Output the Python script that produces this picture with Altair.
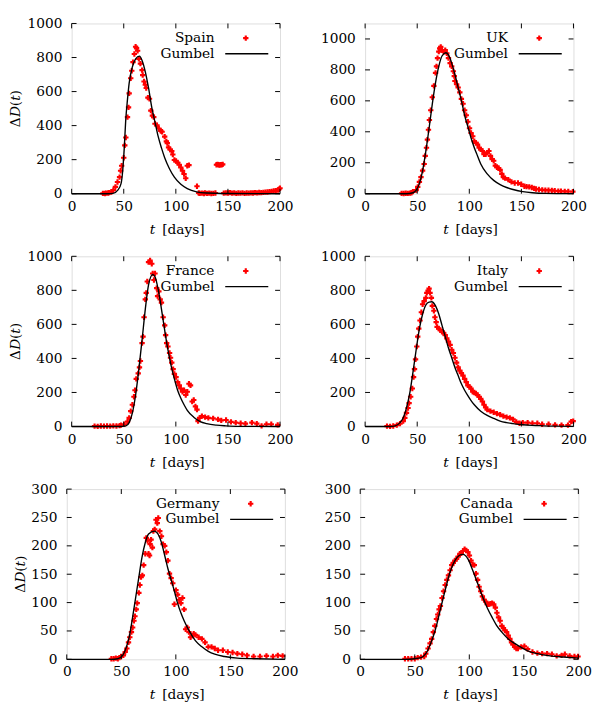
import altair as alt
import pandas as pd

FONT = "DejaVu Serif"
FS = 14

# ---------------- data ----------------
spain_t = [30, 32, 33, 35, 36, 38, 40, 42, 44, 46, 47, 48, 50, 51, 52, 53.6, 54.6, 55.2, 56.7, 57.7,
           58.9, 60.2, 61.4, 62.3, 63.3, 64.5, 66, 67.6, 68.2, 69.5, 70.7, 71.6, 73.2, 74.7, 76, 77.5,
           78.8, 80, 81.9, 83.7, 85.6, 86.8, 89.3, 90.9, 91.8, 93, 94.6, 96.1, 97.1, 98.6, 100.2, 101.7,
           103.3, 104.8, 106.4, 107.9, 109.5, 111, 112.6, 120.3, 122, 123, 125, 127, 128, 130, 132, 134,
           136, 138, 139, 140, 141, 142, 143, 144, 145, 146, 148, 150, 152, 154, 156, 158, 160, 162, 164,
           166, 168, 170, 172, 174, 176, 178, 180, 182, 184, 186, 188, 190, 192, 194, 196, 198, 199, 200]
spain_v = [2, 1, 3, 4, 6, 10, 21, 40, 69, 97, 135, 164, 211, 284, 330, 450, 507, 589, 678, 722,
           773, 821, 863, 855, 840, 792, 764, 726, 697, 659, 640, 621, 564, 558, 488, 459,
           450, 411, 402, 383, 368, 364, 335, 307, 297, 272, 259, 250, 230, 198, 192, 183,
           170, 154, 135, 116, 91, 164, 168, 44, 4, 2, 3, 1, 5, 2, 3, 1,
           2, 4, 170, 172, 170, 168, 171, 170, 172, 3, 5, 4, 6, 3, 5, 2, 4, 3, 5,
           2, 4, 3, 5, 4, 6, 5, 7, 6, 8, 9, 10, 12, 14, 16, 18, 22, 26, 32]
spain_fit_t = [0, 35, 39.7, 44.3, 47.4, 49, 50.5, 52, 53.6, 55.2, 58.3, 61.4, 65.1, 67.6, 70.7, 73.8,
               76.9, 80, 83.1, 86.2, 89.3, 94, 98.6, 104.8, 111, 120, 130, 145, 200]
spain_fit_v = [0, 0, 2, 21, 59, 135, 269, 440, 554, 650, 745, 792, 808, 783, 716, 621,
               507, 421, 335, 269, 211, 145, 97, 55, 30, 11, 4, 1, 0]

uk_t = [35, 37, 39, 41, 43, 44.5, 45.9, 49, 50.5, 52.1, 53.6, 55.2, 56.7, 57.7, 58.9, 59.8, 60.8, 61.7,
        63, 64.5, 66, 67.6, 68.5, 69.5, 70.7, 71.6, 72.6, 73.8, 75.3, 76.9, 78.4, 80, 81.6, 83.1, 84.7,
        85.6, 86.2, 87.8, 89.3, 90.9, 92.4, 94, 95.5, 97.1, 98.6, 100.2, 101.7, 103.3, 104.8, 106.4,
        107.9, 109.5, 111, 112.6, 114.1, 115.7, 117.2, 118.8, 120.3, 121.9, 123.4, 125, 126.5, 128.1,
        129.6, 131.2, 132.7, 134.3, 137.4, 140.5, 143.6, 146.7, 149.8, 152.9, 155, 157.5, 160, 162.2,
        164, 166.8, 170, 173, 176, 179.2, 182, 185.4, 188, 191.6, 195, 199.4]
uk_v = [2, 1, 3, 2, 4, 6, 13, 23, 44, 76, 107, 149, 192, 244, 297, 349, 413, 476,
        539, 623, 697, 781, 823, 876, 918, 939, 949, 928, 918, 928, 907, 876, 844, 823, 791,
        760, 728, 707, 686, 655, 613, 581, 539, 507, 465, 423, 392, 371, 339, 328,
        318, 297, 286, 276, 255, 255, 265, 276, 244, 223, 213, 181, 171, 166,
        154, 128, 107, 101, 91, 76, 69, 69, 61, 48, 46, 44, 40, 34,
        30, 27, 25, 23, 22, 21, 19, 17, 16, 15, 14, 13]
uk_fit_t = [0, 39.7, 45.9, 49, 52.1, 55.2, 58.3, 61.4, 64.5, 67.6, 70.7, 73.8, 77.5, 80, 83.1, 86.2,
            89.3, 92.4, 95.5, 98.6, 101.7, 104.8, 107.9, 111, 117.2, 123.4, 129.6, 135.8, 142, 151.3,
            160.6, 173, 200]
uk_fit_v = [0, 0, 6, 23, 65, 149, 276, 423, 581, 718, 823, 890, 911, 897, 844, 770,
            686, 602, 507, 434, 360, 297, 244, 192, 128, 86, 59, 40, 27, 13,
            6, 2, 0]

france_t = [22, 25, 28, 31, 34, 37, 40, 43, 46, 47.4, 50.5, 53.6, 55.2, 56.7, 58.3, 59.8, 60.8, 62, 63.9,
            65.1, 66, 67.6, 68.5, 69.5, 70.7, 71.6, 72.6, 73.8, 75.3, 76.9, 77.8, 79, 80, 81.6, 82.5,
            83.7, 85, 86.2, 87.8, 89.3, 90.2, 91.2, 92.4, 94, 94.9, 96.1, 97.4, 98.6, 100.2, 101.7,
            103.3, 104.8, 106.4, 107.9, 109.5, 111, 112.6, 114.1, 115.7, 117.2, 118.8, 120.3, 121.3,
            122.8, 125, 128.1, 131.2, 135.8, 140.5, 143.6, 148.2, 152.9, 157.5, 162.2, 166.8, 173,
            177.7, 182.3, 187, 191.6, 197.8]
france_v = [2, 1, 3, 2, 3, 2, 4, 3, 5, 8, 13, 29, 51, 90, 128, 175, 213, 280, 312,
            347, 385, 490, 528, 642, 747, 785, 852, 966, 975, 956, 899, 861, 899, 813, 766,
            794, 747, 728, 642, 594, 537, 490, 470, 432, 404, 375, 337, 309, 290, 261,
            242, 223, 204, 213, 185, 204, 251, 242, 147, 156, 118, 99, 32,
            51, 61, 55, 51, 48, 42, 36, 38, 27, 23, 19, 17, 23,
            17, 4, 13, 13, 10]
france_fit_t = [0, 45.9, 52.1, 55.2, 58.3, 61.4, 64.5, 67.6, 70.7, 73.8, 77.8, 80, 83.1, 86.2, 89.3,
                92.4, 95.5, 98.6, 101.7, 104.8, 107.9, 111, 117.2, 123.4, 129.6, 139, 148, 160, 200]
france_fit_v = [0, 0, 4, 23, 80, 185, 337, 509, 690, 832, 893, 880, 804, 690, 566,
                451, 356, 280, 213, 166, 128, 95, 55, 29, 17, 8, 4, 1, 0]

italy_t = [21, 24, 27, 30.4, 33.5, 36.6, 38.1, 39.7, 41.2, 42.2, 43.7, 45.3, 46.5, 47.4, 48.4, 49.6,
           50.5, 51.5, 52.7, 54, 55.2, 56.7, 58.3, 59.2, 60.5, 61.4, 62.3, 63.6, 64.5, 66, 67, 68.2,
           69.1, 70.7, 72.2, 73.8, 75.3, 76.9, 78.4, 80, 81.6, 83.1, 84.7, 86.2, 87.8, 89.3, 90.9,
           92.4, 94, 95.5, 97.1, 98.6, 100.2, 101.7, 103.3, 104.8, 106.4, 107.9, 109.5, 111, 112.6,
           114.1, 115.7, 117.2, 120.3, 123.4, 126.5, 129.6, 132.7, 135.8, 138.9, 142, 145.1, 148.2,
           151.3, 156, 160.6, 165.3, 169.9, 176.1, 182.3, 188.5, 194.7, 197.8, 199.7]
italy_v = [2, 1, 3, 8, 17, 32, 51, 80, 109, 137, 175, 223, 290, 337, 394, 470,
           528, 575, 623, 671, 718, 737, 756, 785, 798, 810, 785, 756, 709, 680, 642, 613,
           585, 575, 566, 556, 551, 537, 518, 499, 480, 451, 432, 404, 375, 347, 328,
           314, 299, 280, 261, 242, 232, 223, 204, 200, 194, 185, 175, 162, 147,
           128, 112, 99, 90, 84, 76, 70, 61, 55, 51, 42, 27, 19,
           23, 23, 19, 19, 13, 13, 10, 8, 8, 29, 32]
italy_fit_t = [0, 24.2, 28.8, 33.5, 36.6, 39.7, 42.8, 45.9, 49, 52.1, 55.2, 58.3, 61.4, 63.9, 67.6, 70.7,
               73.8, 76.9, 80, 83.1, 86.2, 89.3, 92.4, 95.5, 98.6, 101.7, 104.8, 111, 117.2, 123.4,
               129.6, 135.8, 142, 151.3, 163.7, 179, 200]
italy_fit_v = [0, 0, 4, 23, 51, 109, 194, 318, 451, 575, 661, 714, 731, 733, 709, 661,
               594, 528, 461, 404, 347, 299, 251, 213, 181, 152, 128, 90, 65, 48,
               32, 23, 17, 10, 6, 2, 1]

germany_t = [40.9, 43, 45, 46.8, 48.3, 49.8, 51.9, 53.6, 55.1, 56.6, 57.8, 59.3, 60.4, 61.6, 62.5, 63.7,
             64.6, 66.1, 67, 68.1, 69.3, 70.5, 72, 72.9, 74.1, 75, 75.9, 76.4, 77.3, 78.5, 79.4, 80.6,
             81.8, 83, 83.9, 85.3, 86.8, 88.3, 89.8, 91.3, 92.7, 94.2, 95.7, 97.2, 98.7, 100.1, 101.6,
             103.1, 104.6, 106.1, 107.6, 109, 110.5, 112, 113.5, 115, 116.4, 117.9, 120.9, 123.9,
             126.8, 129.8, 132.7, 135.7, 138.7, 143.1, 147.6, 152, 156.4, 160.9, 165.3, 171.3, 177.2,
             183.1, 189, 193.5, 197.9]
germany_v = [1, 1, 2, 1, 3, 5, 7, 13, 19, 30, 39, 48, 56, 68, 76, 88,
             99, 117, 131, 145, 148, 166, 186, 214, 209, 186, 183, 203, 211, 197, 226, 229,
             246, 240, 249, 226, 217, 203, 200, 189, 174, 151, 143, 134, 97, 122, 114,
             105, 99, 108, 88, 53, 56, 48, 39, 42, 45, 43, 39, 36,
             30, 22, 22, 19, 16, 16, 13, 12, 10, 9, 7, 5, 5,
             6, 5, 7, 6]
germany_fit_t = [0, 40.9, 46.8, 51.3, 54.2, 57.2, 60.1, 63.1, 66.1, 69, 72, 75, 80.3, 83.9, 86.8, 89.8,
                 92.7, 95.7, 98.7, 101.6, 104.6, 107.6, 112, 117.9, 123.9, 129.8, 135.7, 144.6, 156.4,
                 174, 200]
germany_fit_v = [0, 0, 1, 7, 19, 39, 71, 108, 145, 180, 206, 221, 226, 220, 206, 183,
                 160, 140, 120, 99, 82, 68, 51, 33, 22, 14, 9, 5, 2,
                 1, 0]

canada_t = [41, 44, 47, 50, 52.7, 55.7, 58.7, 60.1, 62.2, 64, 65.5, 67, 68.4, 69.9, 71.1, 72.3, 73.5, 75,
            76.4, 77.9, 79.4, 80.9, 82.4, 83.9, 85.3, 86.8, 88.3, 89.8, 91.3, 92.7, 94.2, 95.7, 97.2,
            98.7, 100.1, 101.6, 103.1, 104.6, 106.1, 107.6, 109, 110.5, 112, 113.5, 115, 116.4, 117.9,
            119.4, 120.9, 122.4, 123.9, 125.3, 126.8, 128.3, 129.8, 131.3, 132.7, 134.2, 135.7, 137.2,
            138.7, 140.1, 141.6, 143.1, 144.6, 147.6, 150.5, 153.5, 157.9, 162.4, 166.8, 171.3, 175.7,
            180.1, 184.6, 187.6, 192, 196.4, 199.7]
canada_v = [1, 1, 1, 1, 3, 4, 5, 10, 19, 28, 36, 48, 59, 71, 79, 88, 94, 108,
            120, 131, 140, 148, 157, 166, 170, 174, 177, 181, 186, 187, 191, 194, 192,
            189, 183, 174, 167, 166, 151, 140, 128, 120, 111, 105, 102, 97, 97,
            98, 99, 97, 91, 82, 74, 68, 59, 55, 51, 48, 42, 36,
            30, 26, 22, 19, 19, 22, 23, 18, 13, 11, 10, 10, 9,
            6, 7, 9, 6, 5, 5]
canada_fit_t = [0, 41, 49.8, 55.7, 60.1, 64.6, 69, 73.5, 77.9, 82.4, 86.8, 90.7, 94.2, 98.7, 103.1,
                107.6, 112, 116.4, 120.9, 125.3, 129.8, 135.7, 141.6, 147.6, 153.5, 162.4, 174.2, 186, 200]
canada_fit_v = [0, 0, 1, 3, 10, 28, 53, 88, 122, 154, 174, 183, 185, 177, 157,
                134, 111, 91, 74, 59, 48, 36, 28, 21, 15, 10, 6, 4, 2]

x_ticks = [0, 50, 100, 150, 200]
y_ticks_1000 = [0, 200, 400, 600, 800, 1000]
y_ticks_300 = [0, 50, 100, 150, 200, 250, 300]


def one(label):
    return pd.DataFrame({"s": [label]})


def panel(name, pt, pv, ft, fv, ymax, yticks, w, h, ytitle_x):
    pts = pd.DataFrame({"t": pt, "v": pv})
    fit = pd.DataFrame({"t": ft, "v": fv})
    xs = alt.Scale(domain=[0, 200], nice=False, zero=False)
    ys = alt.Scale(domain=[0, ymax], nice=False, zero=False)
    xax = alt.Axis(values=x_ticks, ticks=False, domain=False, grid=False, title=None, format="d",
                   labelPadding=6, labelFont=FONT, labelFontSize=FS, labelColor="black",
                   labelFlush=False, labelOverlap=False)
    yax = alt.Axis(values=yticks, ticks=False, domain=False, grid=False, title=None, format="d",
                   labelPadding=10, labelFont=FONT, labelFontSize=FS, labelColor="black",
                   labelFlush=False, labelOverlap=False)
    X = alt.X("t:Q", scale=xs, axis=xax)
    Y = alt.Y("v:Q", scale=ys, axis=yax)

    points = alt.Chart(pts).mark_point(shape="cross", filled=True, color="#ff0000",
                                       size=30, opacity=1).encode(x=X, y=Y)
    line = alt.Chart(fit).mark_line(color="black", strokeWidth=1.4,
                                    interpolate="monotone").encode(x=X, y=Y)

    xt = pd.DataFrame({"t": x_ticks})
    yt = pd.DataFrame({"v": yticks})
    tick_style = dict(color="black", strokeWidth=1)
    bt = alt.Chart(xt).mark_rule(**tick_style).encode(x=X, y=alt.value(h), y2=alt.value(h - 5))
    tt = alt.Chart(xt).mark_rule(**tick_style).encode(x=X, y=alt.value(0), y2=alt.value(5))
    lt = alt.Chart(yt).mark_rule(**tick_style).encode(y=Y, x=alt.value(0), x2=alt.value(5))
    rt = alt.Chart(yt).mark_rule(**tick_style).encode(y=Y, x=alt.value(w - 5), x2=alt.value(w))

    # legend
    leg1 = alt.Chart(one(name)).mark_text(align="right", baseline="middle", font=FONT,
                                          fontSize=FS, color="black").encode(
        text="s:N", x=alt.value(w - 67), y=alt.value(15))
    leg2 = alt.Chart(one("Gumbel")).mark_text(align="right", baseline="middle", font=FONT,
                                              fontSize=FS, color="black").encode(
        text="s:N", x=alt.value(w - 67), y=alt.value(31))
    legp = alt.Chart(one("p")).mark_point(shape="cross", filled=True, color="#ff0000",
                                          size=30, opacity=1).encode(
        x=alt.value(w - 35), y=alt.value(15))
    legl = alt.Chart(one("l")).mark_rule(color="black", strokeWidth=1.4).encode(
        x=alt.value(w - 56), x2=alt.value(w - 12), y=alt.value(31))

    # x title: italic t + [days]
    xt1 = alt.Chart(one("t")).mark_text(align="right", baseline="middle", font=FONT, fontSize=FS,
                                        fontStyle="italic", color="black").encode(
        text="s:N", x=alt.value(w / 2 - 21), y=alt.value(h + 37))
    xt2 = alt.Chart(one("[days]")).mark_text(align="left", baseline="middle", font=FONT,
                                             fontSize=FS, color="black").encode(
        text="s:N", x=alt.value(w / 2 - 14), y=alt.value(h + 37))

    layers = [points, line, bt, tt, lt, rt, leg1, leg2, legp, legl, xt1, xt2]

    if ytitle_x is not None:
        pieces = [("Δ", "normal", 10.5), ("D", "italic", 10.9), ("(", "normal", 5.5),
                  ("t", "italic", 5.6), (")", "normal", 5.5)]
        total = sum(p[2] for p in pieces)
        pos = h / 2 + total / 2
        for txt, style, wd in pieces:
            layers.append(alt.Chart(one(txt)).mark_text(
                align="left", baseline="middle", angle=270, font=FONT, fontSize=FS,
                fontStyle=style, color="black").encode(
                text="s:N", x=alt.value(ytitle_x), y=alt.value(pos)))
            pos -= wd

    return alt.layer(*layers).properties(width=w, height=h)


W1, H1 = 213, 174
W3, H3 = 223, 174

row1 = alt.hconcat(
    panel("Spain", spain_t, spain_v, spain_fit_t, spain_fit_v, 1000, y_ticks_1000, W1, H1, -57),
    panel("UK", uk_t, uk_v, uk_fit_t, uk_fit_v, 1100, y_ticks_1000, W1, H1, None),
    spacing=26)
row2 = alt.hconcat(
    panel("France", france_t, france_v, france_fit_t, france_fit_v, 1000, y_ticks_1000, W1, H1, -57),
    panel("Italy", italy_t, italy_v, italy_fit_t, italy_fit_v, 1000, y_ticks_1000, W1, H1, None),
    spacing=26)
row3 = alt.hconcat(
    panel("Germany", germany_t, germany_v, germany_fit_t, germany_fit_v, 300, y_ticks_300, W3, H3, -47),
    panel("Canada", canada_t, canada_v, canada_fit_t, canada_fit_v, 300, y_ticks_300, W3, H3, None),
    spacing=25)

chart = alt.vconcat(row1, row2, row3, spacing=11, center=True).properties(
    padding=0
).configure_view(stroke="black", strokeWidth=1).configure(background="white")

chart.save("out.html", embed_options={"renderer": "svg", "actions": False})
